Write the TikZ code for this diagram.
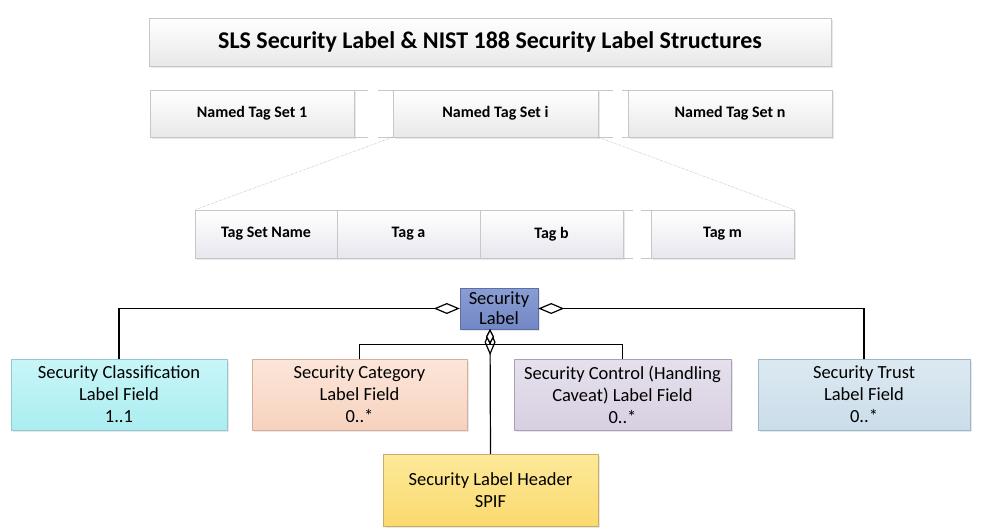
\documentclass[tikz,border=0pt]{standalone}
\usepackage{fontspec}
\setmainfont{Carlito}
\usetikzlibrary{arrows.meta,shadows}

\definecolor{clsTop}{HTML}{C8F6F8}
\definecolor{clsBot}{HTML}{ABEDF0}
\definecolor{clsLine}{HTML}{93C8CE}
\definecolor{catTop}{HTML}{FCE6DA}
\definecolor{catBot}{HTML}{F6D2BE}
\definecolor{catLine}{HTML}{D6AE99}
\definecolor{ctlTop}{HTML}{E6E0EC}
\definecolor{ctlBot}{HTML}{D8D0E2}
\definecolor{ctlLine}{HTML}{A9A1B8}
\definecolor{trTop}{HTML}{DCE9F1}
\definecolor{trBot}{HTML}{CADDEA}
\definecolor{trLine}{HTML}{9DB6C8}
\definecolor{hdTop}{HTML}{FDE99A}
\definecolor{hdBot}{HTML}{FADA6E}
\definecolor{hdLine}{HTML}{C8AE62}
\definecolor{slTop}{HTML}{8A9DD3}
\definecolor{slBot}{HTML}{7288C6}
\definecolor{slLine}{HTML}{5B6FA6}
\definecolor{tagBot}{HTML}{E8E6EE}

\begin{document}
\begin{tikzpicture}[x=1pt, y=-1pt, >=Stealth,
  greybox/.style={draw=black!22, top color=white, bottom color=black!9,
    drop shadow={shadow xshift=1.5pt, shadow yshift=-1.5pt, fill=black!18},
    inner sep=0pt, font=\fontsize{16}{19}\selectfont\bfseries},
  tagbox/.style={greybox, bottom color=tagBot},
  fieldbox/.style={draw=#1Line, top color=#1Top, bottom color=#1Bot,
    drop shadow={shadow xshift=1.5pt, shadow yshift=-1.5pt, fill=black!18},
    inner sep=0pt, align=center, minimum height=71pt,
    font=\fontsize{18.5}{22}\selectfont},
  edge/.style={black!22},
  agg/.style={line width=1.2pt, -{Diamond[open, fill=white, length=26pt, width=11pt]}},
  aggsmall/.style={line width=1.2pt, -{Diamond[open, fill=white, length=15pt, width=8pt]}}]
\useasboundingbox (0,0) rectangle (1000,530);

% title and named tag sets
\node[greybox, minimum width=682pt, minimum height=48pt, font=\fontsize{24}{28}\selectfont\bfseries]
  (title) at (490,42) {SLS Security Label \& NIST 188 Security Label Structures};
\node[greybox, minimum width=204pt, minimum height=47pt] (ns1) at (252,113.5) {Named Tag Set 1};
\node[greybox, minimum width=205pt, minimum height=47pt] (nsi) at (495.5,113.5) {Named Tag Set i};
\node[greybox, minimum width=204pt, minimum height=47pt] (nsn) at (730,113.5) {Named Tag Set n};
\draw[edge] (ns1.north east) -- ++(14,0) (ns1.south east) -- ++(14,0);
\draw[edge] (nsi.north west) -- ++(-15,0) (nsi.south west) -- ++(-15,0);
\draw[edge] (nsi.north east) -- ++(15,0) (nsi.south east) -- ++(15,0);
\draw[edge] (nsn.north west) -- ++(-6,0) (nsn.south west) -- ++(-6,0);

% tags of one set
\node[tagbox, minimum width=142pt, minimum height=48pt] (tsn) at (266,234) {Tag Set Name};
\node[tagbox, minimum width=143pt, minimum height=48pt] (ta) at (408.5,234) {Tag a};
\node[tagbox, minimum width=143pt, minimum height=48pt] (tb) at (551.5,234) {Tag b};
\node[tagbox, minimum width=143pt, minimum height=48pt] (tm) at (722.5,234) {Tag m};
\draw[edge] (tb.north east) -- ++(10,0) (tb.south east) -- ++(10,0);
\draw[edge] (tm.north west) -- ++(-10,0) (tm.south west) -- ++(-10,0);
\draw[black!45, densely dotted] (nsi.south west) -- (tsn.north west);
\draw[black!45, densely dotted] (nsi.south east) -- (tm.north east);

% label fields
\node[fieldbox=sl, minimum width=78pt, minimum height=41pt, font=\fontsize{18.5}{20}\selectfont]
  (sl) at (499,308.5) {Security\\Label};
\node[fieldbox=cls, minimum width=216pt] (cls) at (119,394.5) {Security Classification\\Label Field\\1..1};
\node[fieldbox=cat, minimum width=215pt] (cat) at (359.5,394.5) {Security Category\\Label Field\\0..*};
\node[fieldbox=ctl, minimum width=217pt] (ctl) at (622.5,394.5) {Security Control (Handling\\Caveat) Label Field\\0..*};
\node[fieldbox=tr, minimum width=212pt] (tr) at (864,394.5) {Security Trust\\Label Field\\0..*};
\node[fieldbox=hd, minimum width=215pt, minimum height=72pt] (hd) at (490.5,490) {Security Label Header\\SPIF};

\coordinate (slb) at ([xshift=-9pt]sl.south);
\coordinate (jn) at ([yshift=-15pt]slb);
\draw[agg] (cls.north) |- (sl.west);
\draw[agg] (tr.north) |- (sl.east);
\draw[agg] (hd.north) -- (slb);
\draw[aggsmall] (cat.north) |- (jn) -- (slb);
\draw[aggsmall] (ctl.north) |- (jn) -- (slb);
\end{tikzpicture}
\end{document}
